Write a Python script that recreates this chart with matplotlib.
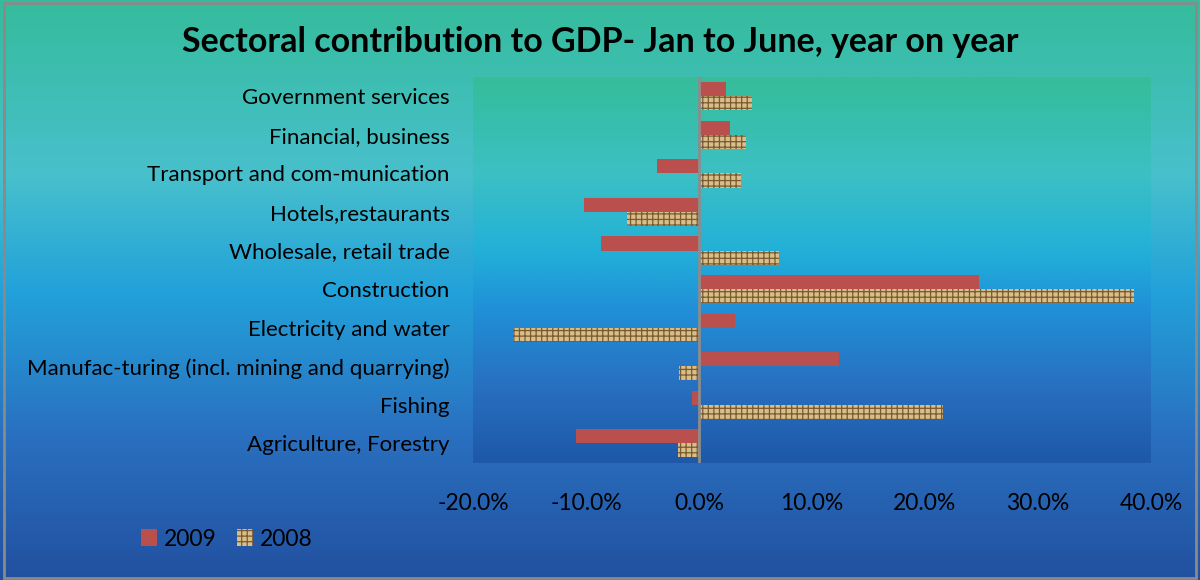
import matplotlib
matplotlib.use("Agg")
import matplotlib.pyplot as plt
import numpy as np
from matplotlib.colors import LinearSegmentedColormap
from matplotlib.patches import Rectangle, Patch

categories = ["Agriculture, Forestry", "Fishing",
              "Manufac-turing (incl. mining and quarrying)",
              "Electricity and water", "Construction",
              "Wholesale, retail trade", "Hotels,restaurants",
              "Transport and com-munication", "Financial, business",
              "Government services"]
v2009 = [-10.9, -0.6, 12.4, 3.2, 24.8, -8.7, -10.2, -3.7, 2.7, 2.4]
v2008 = [-1.9, 21.6, -1.8, -16.5, 38.5, 7.1, -6.4, 3.7, 4.2, 4.7]
xticks = [-20, -10, 0, 10, 20, 30, 40]
title = "Sectoral contribution to GDP- Jan to June, year on year"

plt.rcParams['font.family'] = ['Lato', 'DejaVu Sans']
plt.rcParams['hatch.linewidth'] = 0.9

fig = plt.figure(figsize=(12, 5.8), dpi=100)

# figure background gradient
bg = fig.add_axes([0, 0, 1, 1], zorder=-10)
bg.axis('off')
cm_out = LinearSegmentedColormap.from_list('out', [
    (0.0, '#35bc9c'), (0.3, '#48c0cc'), (0.5, '#22a2da'),
    (0.75, '#2a70c0'), (1.0, '#2250a0')])
grad = np.linspace(0, 1, 256).reshape(-1, 1)
bg.imshow(grad, aspect='auto', cmap=cm_out, extent=[0, 1, 0, 1], origin='upper')
bg.set_xlim(0, 1); bg.set_ylim(0, 1)
fig.patches.append(Rectangle((0.003, 0.004), 0.994, 0.99, transform=fig.transFigure,
                             fill=False, edgecolor='#8a8a8a', linewidth=2, zorder=5))

ax = fig.add_axes([473/1200, 1-462.7/580, (1151-473)/1200, (462.7-77)/580])
cm_in = LinearSegmentedColormap.from_list('in', [
    (0.0, '#35bd9a'), (0.25, '#3cc0c4'), (0.45, '#22b0d8'),
    (0.6, '#2090d8'), (0.8, '#2870c0'), (1.0, '#1e58a8')])
ax.imshow(grad, aspect='auto', cmap=cm_in, extent=[0, 1, 0, 1],
          transform=ax.transAxes, origin='upper', zorder=0)

y = np.arange(len(categories))
h = 0.365
ax.barh(y + h/2, v2009, height=h, color='#ba504d', zorder=2, label='2009')
ax.barh(y - h/2, v2008, height=h, facecolor='#d8bf8a', edgecolor='#7a5a30',
        hatch='+++', linewidth=0, zorder=2, label='2008')
ax.axvline(0, color='#8c8c8c', linewidth=2, zorder=3)

ax.set_xlim(-20, 40)
ax.set_ylim(-0.5, len(categories) - 0.5)
ax.set_xticks(xticks)
ax.set_xticklabels([f"{t:.1f}%" for t in xticks], fontsize=16.5)
ax.set_yticks(y)
ax.set_yticklabels(categories, fontsize=16)
ax.tick_params(axis='x', length=0, pad=22)
ax.tick_params(axis='y', length=0, pad=17)
for s in ax.spines.values():
    s.set_visible(False)

fig.text(0.5, 1-42/580, title, ha='center', va='center', fontsize=24.5, fontweight='bold')

handles = [Patch(facecolor='#ba504d', label='2009'),
           Patch(facecolor='#d8bf8a', edgecolor='#7a5a30', hatch='+++', linewidth=0, label='2008')]
fig.legend(handles=handles, loc='center left', bbox_to_anchor=(120/1200, 1-539/580),
           ncol=2, frameon=False, fontsize=16.5, handlelength=0.7, handleheight=0.7,
           handletextpad=0.3, columnspacing=0.9)

fig.savefig('out.png', dpi=100)
